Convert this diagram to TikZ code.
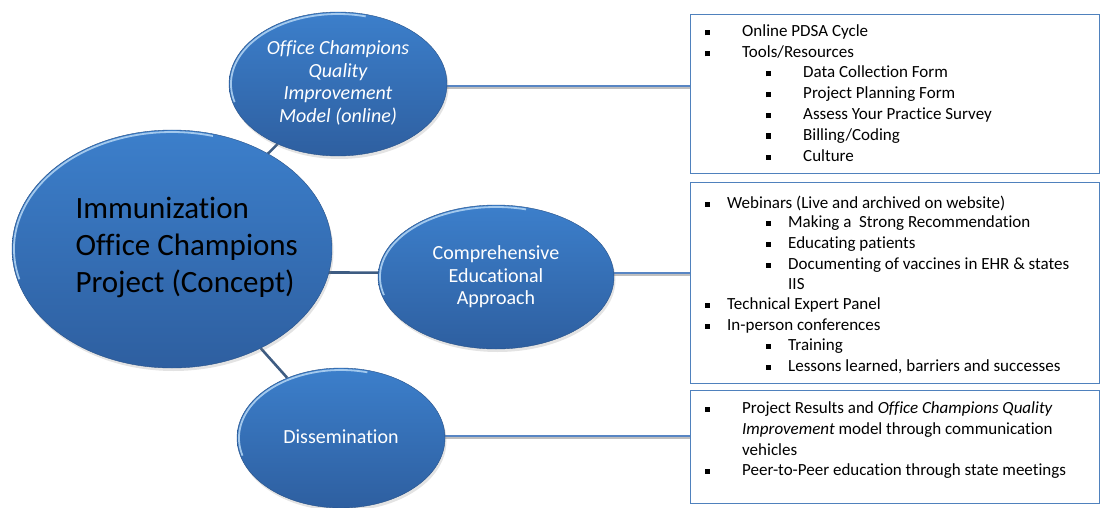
\documentclass[tikz,border=0pt]{standalone}
\usepackage{fontspec}
\setmainfont{Carlito}[Ligatures=NoCommon]
\usetikzlibrary{shapes.geometric,shadows,backgrounds,calc}
\definecolor{ellTop}{RGB}{60,127,203}
\definecolor{ellBot}{RGB}{46,95,160}
\definecolor{rimC}{RGB}{175,210,242}
\definecolor{connDark}{RGB}{62,92,130}
\definecolor{connBlue}{RGB}{88,134,196}
\definecolor{boxC}{RGB}{79,129,189}
\tikzset{
  bubble/.style={ellipse, inner sep=0pt, top color=ellTop, bottom color=ellBot, draw=ellBot!85!black, line width=0.4pt,
    drop shadow={opacity=0.22, shadow xshift=1.5pt, shadow yshift=-3pt}},
  listbox/.style={rectangle, draw=boxC, line width=1.1pt, fill=white, inner sep=0pt, anchor=north west},
  itemtxt/.style={anchor=base west, inner sep=0pt, font=\fontsize{17}{20}\selectfont, text=black},
  bul/.style={anchor=base west, inner sep=0pt, font=\fontsize{17}{20}\selectfont},
  linkdark/.style={draw=connDark, line width=2.6pt},
  linkblue/.style={draw=connBlue, line width=2.8pt},
  linkshadow/.style={draw=black!25, line width=2.8pt},
  bubtxt/.style={text=white, align=center, font=\fontsize{20}{23}\selectfont},
}
\newcommand{\sq}{\rule[1.5pt]{5pt}{5pt}}
\begin{document}
\begin{tikzpicture}[x=1pt,y=-1pt]
\useasboundingbox (0,0) rectangle (1100,508);
% ellipses
\node[bubble, minimum width=320pt, minimum height=238pt] (main) at (172,249) {};
\node[bubble, minimum width=218pt, minimum height=144pt] (qi) at (338,84) {};
\node[bubble, minimum width=236pt, minimum height=144pt] (edu) at (496,277) {};
\node[bubble, minimum width=208pt, minimum height=140pt] (dis) at (341,438) {};
% rim highlights
\foreach \c/\rx/\ry in {main/160/119, qi/109/72, edu/118/72, dis/104/70}{
  \draw[rimC, line width=1.8pt, opacity=0.9] ([shift={(165:{\rx-2} and {\ry-2})}]\c.center) arc[start angle=165, end angle=285, x radius={\rx-2}, y radius={\ry-2}];
}
% texts
\node[anchor=west, align=left, text=black, font=\fontsize{31}{37}\selectfont] (maintxt) at (72,247) {Immunization\\Office Champions\\Project (Concept)};
\node[bubtxt, font=\fontsize{20}{22.8}\itshape\selectfont] (qitxt) at (338,83) {Office Champions\\Quality\\Improvement\\Model (online)};
\node[bubtxt, font=\fontsize{20}{22.5}\selectfont] (edutxt) at (496,277) {Comprehensive\\Educational\\Approach};
\node[bubtxt] (distxt) at (341,437) {Dissemination};
% boxes
\node[listbox, minimum width=409pt, minimum height=159pt] (box1) at (690,14) {};
\node[listbox, minimum width=409pt, minimum height=201pt] (box2) at (690,182) {};
\node[listbox, minimum width=409pt, minimum height=113pt] (box3) at (690,390) {};
% connectors
\begin{scope}[on background layer]
  \draw[linkdark] (main) -- (qi);
  \draw[linkdark] ($(main.center)+(0,23)$) -- ($(edu.center)+(0,-4)$);
  \draw[linkdark] (main) -- (dis);
  \coordinate (e1) at (box1.west |- 0,86);
  \coordinate (e2) at (box2.west |- 0,273);
  \coordinate (e3) at (box3.west |- 0,436);
  \draw[linkshadow] ($(qi.center)+(0,4)$) -- ($(e1)+(0,2)$);
  \draw[linkblue] ($(qi.center)+(0,2)$) -- (e1);
  \draw[linkshadow] ($(edu.center)+(0,-2)$) -- ($(e2)+(0,2)$);
  \draw[linkblue] ($(edu.center)+(0,-4)$) -- (e2);
  \draw[linkshadow] ($(dis.center)+(0,0)$) -- ($(e3)+(0,2)$);
  \draw[linkblue] ($(dis.center)+(0,-2)$) -- (e3);
\end{scope}
% box 1
\node[bul] (a1b) at (705,37) {\sq};  \node[itemtxt] (a1) at (742,37) {Online PDSA Cycle};
\node[bul] (a2b) at (705,58) {\sq};  \node[itemtxt] (a2) at (742,58) {Tools/Resources};
\node[bul] (a3b) at (766,78) {\sq};  \node[itemtxt] (a3) at (803,78) {Data Collection Form};
\node[bul] (a4b) at (766,99) {\sq};  \node[itemtxt] (a4) at (803,99) {Project Planning Form};
\node[bul] (a5b) at (766,120) {\sq}; \node[itemtxt] (a5) at (803,120) {Assess Your Practice Survey};
\node[bul] (a6b) at (766,140) {\sq}; \node[itemtxt] (a6) at (803,140) {Billing/Coding};
\node[bul] (a7b) at (766,161) {\sq}; \node[itemtxt] (a7) at (803,161) {Culture};
% box 2
\node[bul] (c1b) at (705,208) {\sq}; \node[itemtxt] (c1) at (727,208) {Webinars (Live and archived on website)};
\node[bul] (c2b) at (766,227) {\sq}; \node[itemtxt] (c2) at (788,227) {Making a\ \ Strong Recommendation};
\node[bul] (c3b) at (766,248) {\sq}; \node[itemtxt] (c3) at (788,248) {Educating patients};
\node[bul] (c4b) at (766,269) {\sq}; \node[itemtxt] (c4) at (788,269) {Documenting of vaccines in EHR \& states};
\node[itemtxt] (c4c) at (788,289) {IIS};
\node[bul] (c5b) at (705,309) {\sq}; \node[itemtxt] (c5) at (727,309) {Technical Expert Panel};
\node[bul] (c6b) at (705,330) {\sq}; \node[itemtxt] (c6) at (727,330) {In-person conferences};
\node[bul] (c7b) at (766,350) {\sq}; \node[itemtxt] (c7) at (788,350) {Training};
\node[bul] (c8b) at (766,371) {\sq}; \node[itemtxt] (c8) at (788,371) {Lessons learned, barriers and successes};
% box 3
\node[bul] (d1b) at (705,413) {\sq}; \node[itemtxt] (d1) at (742,413) {Project Results and \textit{Office Champions Quality}};
\node[itemtxt] (d1c) at (742,434) {\textit{Improvement} model through communication};
\node[itemtxt] (d1d) at (742,455) {vehicles};
\node[bul] (d2b) at (705,475) {\sq}; \node[itemtxt] (d2) at (742,475) {Peer-to-Peer education through state meetings};
\end{tikzpicture}
\end{document}
